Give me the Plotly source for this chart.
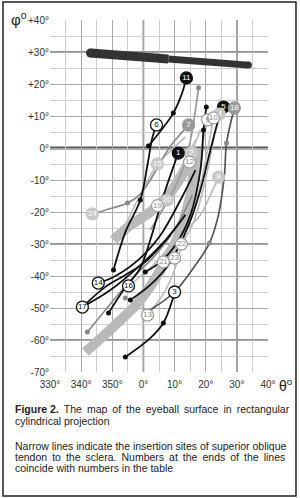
import plotly.graph_objects as go

# ---------------- data ----------------
x_tickvals = [-30, -20, -10, 0, 10, 20, 30, 40]
x_ticktext = ["330°", "340°", "350°", "0°", "10°", "20°", "30°", "40°"]
y_tickvals = [40, 30, 20, 10, 0, -10, -20, -30, -40, -50, -60, -70]
y_ticktext = ["+40°", "+30°", "+20°", "+10°", "0°", "-10°", "-20°", "-30°",
              "-40°", "-50°", "-60°", "-70°"]

# superior rectus insertion (thick dark band, tapering to the right)
rectus_theta = [-17.0, 8.0, 33.7]
rectus_phi = [29.7, 27.8, 25.9]

# broad grey bands
bandA_theta = [-18.6, -9.0, -1.0, 5.5, 11.3, 15.1, 17.7]
bandA_phi = [-63.75, -55.3, -47.5, -38.1, -27.2, -14.7, -0.6]
bandB_theta = [-9.6, -4.2, 2.2, 8.0, 13.5, 17.3]
bandB_phi = [-28.75, -24.1, -20.0, -14.7, -6.9, 0.0]

# black insertion lines
l11_theta = [1.6, 5.5, 9.6, 12.2, 13.8]
l11_phi = [0.6, 5.3, 10.9, 16.6, 21.9]
l6_theta = [-9.6, -5.8, -1.0, 1.3, 2.9, 4.2]
l6_phi = [-38.1, -26.3, -16.25, -5.3, 3.4, 7.2]
l1_theta = [-11.2, -6.4, -1.0, 2.2, 5.5, 8.7, 11.2]
l1_phi = [-51.6, -44.4, -37.5, -28.75, -17.8, -8.4, -1.6]
l5_theta = [-4.2, 2.2, 8.7, 14.5, 18.3, 21.5, 24.1, 25.7]
l5_phi = [-47.5, -42.8, -35.6, -24.1, -13.1, -0.6, 8.8, 12.8]
lbd_theta = [0.6, 5.5, 10.3, 15.1, 18.3, 19.3, 20.2]
lbd_phi = [-38.75, -35.6, -30.3, -20.9, -6.9, 5.6, 12.8]
l3_theta = [-5.8, 2.2, 6.4, 9.3, 10.0]
l3_phi = [-65.3, -59.4, -54.7, -47.5, -45.0]
l17a_theta = [-19.6, -10.6, -1.0, 7.1, 13.5]
l17a_phi = [-49.7, -44.4, -36.6, -28.75, -20.9]
l17b_theta = [-19.6, -12.2, -5.8, 0.6, 8.7]
l17b_phi = [-49.7, -43.4, -39.7, -35.6, -27.2]
l14_theta = [-14.5, -9.0, -1.0, 5.5, 11.9, 16.7]
l14_phi = [-42.2, -40.0, -34.4, -27.2, -16.25, -6.9]

# grey insertion lines
l7_theta = [-16.4, -10.0, -5.1, -1.0, 2.2, 5.5, 8.7, 11.9, 14.5]
l7_phi = [-20.6, -18.75, -17.2, -14.4, -10.0, -4.4, 0.6, 4.4, 7.2]
l18_theta = [2.2, 10.0, 16.7, 21.2, 24.1, 26.0, 26.7, 29.2]
l18_phi = [-50.6, -45.0, -36.6, -29.7, -20.9, -8.4, 1.6, 12.5]
l16_theta = [-18.0, -12.2, -7.4, -2.6, 3.9, 10.3, 15.7]
l16_phi = [-57.5, -50.6, -45.0, -39.7, -33.4, -25.0, -14.7]
lgd_theta = [2.2, 7.1, 11.9, 15.1, 16.7, 17.7]
lgd_phi = [-25.6, -17.8, -8.4, 2.5, 11.9, 18.8]

# light insertion lines
l9_theta = [-4.8, 2.2, 8.7, 13.5, 16.7, 18.9, 20.6]
l9_phi = [-43.1, -37.5, -30.3, -20.9, -10.0, 0.9, 8.8]
l10_theta = [6.4, 11.2, 15.7, 18.3, 20.9, 22.5]
l10_phi = [-35.6, -30.3, -20.9, -11.6, 0.9, 9.4]
l4_theta = [12.2, 15.7, 18.3, 20.6, 22.5, 24.4]
l4_phi = [-30.0, -24.1, -16.25, -6.9, 2.5, 10.6]
l2_theta = [1.3, 7.1, 11.2, 13.5, 14.8, 15.4]
l2_phi = [-52.2, -44.4, -34.4, -22.5, -10.0, -1.6]
l12_theta = [10.0, 11.9, 13.5, 14.5, 14.8]
l12_phi = [-34.4, -27.2, -17.8, -10.0, -4.4]
l8_theta = [7.1, 13.5, 18.3, 21.5, 24.1]
l8_phi = [-31.9, -25.6, -20.9, -14.7, -9.1]
l19_theta = [4.5, 8.7, 13.5, 16.7]
l19_phi = [-18.0, -11.6, -3.75, 2.5]
l20_theta = [7.6, 11.2, 15.7, 18.3]
l20_phi = [-16.3, -10.0, -0.6, 5.6]
l15_theta = [-9.0, -4.2, 0.6, 4.5, 8.7, 13.5]
l15_phi = [-30.3, -20.9, -11.6, -5.0, -0.9, 3.5]

# small end dots
black_dot_theta = [1.6, 9.6, -1.0, -9.6, -11.2, -4.2, -5.8, 6.4, 20.2, 19.3, 0.6]
black_dot_phi = [0.6, 10.9, -16.25, -38.1, -51.6, -47.5, -65.3, -54.7, 12.8, 5.6, -38.75]
grey_dot_theta = [17.7, -5.1, -18.0, 21.2, 26.7, -5.8]
grey_dot_phi = [18.8, -17.2, -57.5, -29.7, 1.6, -46.9]

# numbered labels
label_text = ["11", "6", "7", "9", "10", "4", "5", "18", "1", "2", "12", "15", "8",
              "19", "20", "22", "23", "21", "3", "24", "14", "16", "17", "13"]
label_theta = [13.8, 4.2, 14.5, 20.6, 22.5, 24.4, 25.7, 29.2, 11.2, 15.4, 14.8, 4.5, 24.1,
               4.5, 7.6, 12.2, 10.0, 6.4, 10.0, -16.4, -14.5, -4.8, -19.6, 1.3]
label_phi = [21.9, 7.2, 7.2, 8.8, 9.4, 10.6, 12.8, 12.5, -1.6, -1.6, -4.4, -5.0, -9.1,
             -18.0, -16.3, -30.0, -34.4, -35.6, -45.0, -20.6, -42.2, -43.1, -49.7, -52.2]
label_style = ["black", "white", "grey", "wlight", "wlight", "light", "black", "grey",
               "black", "light", "wlight", "light", "light",
               "wlight", "light", "wlight", "wlight", "wlight", "white", "light",
               "white", "white", "white", "wlight"]

TS = "\u2009"  # thin space used to justify the caption lines
caption_lines = [
    ("<b>Figure 2.</b> The map of the eyeball surface in rectangular").replace(" ", " " + TS),
    "cylindrical projection",
    "Narrow lines indicate the insertion sites of superior oblique",
    ("tendon to the sclera. Numbers at the ends of the lines").replace(" ", " " + TS),
    "coincide with numbers in the table",
]
caption_lines[0] = caption_lines[0].replace("<b>Figure " + TS + "2.</b>", "<b>Figure 2.</b>")

# ---------------- figure ----------------
FONT = "Liberation Sans, Arial, sans-serif"
fig = go.Figure()

for bt, bp in [(bandA_theta, bandA_phi), (bandB_theta, bandB_phi)]:
    fig.add_trace(go.Scatter(x=bt, y=bp, mode="lines",
                             line=dict(color="#b9b9b9", width=10, shape="spline"),
                             hoverinfo="skip", showlegend=False))

# tapered dark band: wide left half, narrower right half, rounded ends
fig.add_trace(go.Scatter(x=rectus_theta[:2], y=rectus_phi[:2], mode="lines",
                         line=dict(color="#333333", width=9),
                         hoverinfo="skip", showlegend=False))
fig.add_trace(go.Scatter(x=rectus_theta[1:], y=rectus_phi[1:], mode="lines",
                         line=dict(color="#333333", width=7),
                         hoverinfo="skip", showlegend=False))
fig.add_trace(go.Scatter(x=[rectus_theta[0], rectus_theta[-1]],
                         y=[rectus_phi[0], rectus_phi[-1]], mode="markers",
                         marker=dict(color="#333333", size=[9, 7], opacity=1,
                                     line=dict(width=0)),
                         hoverinfo="skip", showlegend=False))

light_lines = [(l9_theta, l9_phi), (l10_theta, l10_phi), (l4_theta, l4_phi),
               (l2_theta, l2_phi), (l12_theta, l12_phi), (l8_theta, l8_phi),
               (l19_theta, l19_phi), (l20_theta, l20_phi), (l15_theta, l15_phi)]
grey_lines = [(l7_theta, l7_phi, "#8a8a8a"), (l18_theta, l18_phi, "#555555"),
              (l16_theta, l16_phi, "#8a8a8a"), (lgd_theta, lgd_phi, "#9a9a9a")]
black_lines = [(l11_theta, l11_phi), (l6_theta, l6_phi), (l1_theta, l1_phi),
               (l5_theta, l5_phi), (lbd_theta, lbd_phi), (l3_theta, l3_phi),
               (l17a_theta, l17a_phi), (l17b_theta, l17b_phi), (l14_theta, l14_phi)]

for t, p in light_lines:
    fig.add_trace(go.Scatter(x=t, y=p, mode="lines",
                             line=dict(color="#bdbdbd", width=1.7, shape="spline"),
                             hoverinfo="skip", showlegend=False))
for t, p, c in grey_lines:
    fig.add_trace(go.Scatter(x=t, y=p, mode="lines",
                             line=dict(color=c, width=1.7, shape="spline"),
                             hoverinfo="skip", showlegend=False))
for t, p in black_lines:
    fig.add_trace(go.Scatter(x=t, y=p, mode="lines",
                             line=dict(color="#111111", width=1.8, shape="spline"),
                             hoverinfo="skip", showlegend=False))

fig.add_trace(go.Scatter(x=grey_dot_theta, y=grey_dot_phi, mode="markers",
                         marker=dict(color="#8a8a8a", size=5, line=dict(width=0)),
                         hoverinfo="skip", showlegend=False))
fig.add_trace(go.Scatter(x=black_dot_theta, y=black_dot_phi, mode="markers",
                         marker=dict(color="#111111", size=5, line=dict(width=0)),
                         hoverinfo="skip", showlegend=False))

styles = {
    "black": dict(fill="#111111", edge="#111111", text="white"),
    "white": dict(fill="white", edge="#111111", text="#111111"),
    "grey": dict(fill="#9a9a9a", edge="#9a9a9a", text="white"),
    "light": dict(fill="#c8c8c8", edge="#c8c8c8", text="white"),
    "wlight": dict(fill="white", edge="#a0a0a0", text="#8a8a8a"),
}
for key, st in styles.items():
    idx = [i for i, s in enumerate(label_style) if s == key]
    fig.add_trace(go.Scatter(
        x=[label_theta[i] for i in idx], y=[label_phi[i] for i in idx],
        text=[label_text[i] for i in idx], mode="markers+text",
        textposition="middle center",
        textfont=dict(family=FONT, size=8, color=st["text"]),
        marker=dict(color=st["fill"], size=12, line=dict(color=st["edge"], width=1.3)),
        hoverinfo="skip", showlegend=False))

# grid emphasis lines
shapes = []
for v in [30, -30, -60]:
    shapes.append(dict(type="line", xref="x", yref="y", x0=-30, x1=40, y0=v, y1=v,
                       line=dict(color="#707070", width=1.6), layer="below"))
shapes.append(dict(type="line", xref="x", yref="y", x0=-30, x1=40, y0=0, y1=0,
                   line=dict(color="#5a5a5a", width=3), layer="below"))
for v in [0, 30]:
    shapes.append(dict(type="line", xref="x", yref="y", x0=v, x1=v, y0=-70, y1=40,
                       line=dict(color="#707070", width=1.6), layer="below"))
# outer frame
shapes.append(dict(type="rect", xref="paper", yref="paper",
                   x0=-0.2156, x1=1.1284, y0=-0.3523, y1=1.0511,
                   line=dict(color="#222222", width=1.5)))

annotations = [
    dict(text="φ<sup>o</sup>", xref="paper", yref="paper", x=-0.19, y=1.003,
         xanchor="left", yanchor="middle", showarrow=False,
         font=dict(family=FONT, size=15, color="#222")),
    dict(text="θ<sup>o</sup>", xref="paper", yref="paper", x=1.04, y=-0.037,
         xanchor="left", yanchor="middle", showarrow=False,
         font=dict(family=FONT, size=14, color="#222")),
]
cap_y = [-0.105, -0.139, -0.210, -0.2415, -0.2727]
for txt, yy in zip(caption_lines, cap_y):
    annotations.append(dict(text=txt, xref="paper", yref="paper", x=-0.1697, y=yy,
                            xanchor="left", yanchor="middle", showarrow=False,
                            align="left",
                            font=dict(family=FONT, size=10.5, color="#222")))

fig.update_layout(
    width=300, height=498,
    margin=dict(l=50, r=32, t=20, b=126),
    paper_bgcolor="white", plot_bgcolor="white",
    shapes=shapes, annotations=annotations,
    xaxis=dict(range=[-30, 40], tickvals=x_tickvals, ticktext=x_ticktext,
               showgrid=True, gridcolor="#a8a8a8", gridwidth=1,
               minor=dict(dtick=5, tick0=0, showgrid=True, gridcolor="#cfcfcf", gridwidth=1),
               zeroline=False, showline=False, ticks="", ticklabelstandoff=5,
               tickfont=dict(family=FONT, size=10, color="#333"), fixedrange=True),
    yaxis=dict(range=[-70, 40], tickvals=y_tickvals, ticktext=y_ticktext,
               showgrid=True, gridcolor="#a8a8a8", gridwidth=1,
               minor=dict(dtick=5, tick0=0, showgrid=True, gridcolor="#cfcfcf", gridwidth=1),
               zeroline=False, showline=False, ticks="",
               tickfont=dict(family=FONT, size=10, color="#333"), fixedrange=True),
)

fig.write_html("out.html")
